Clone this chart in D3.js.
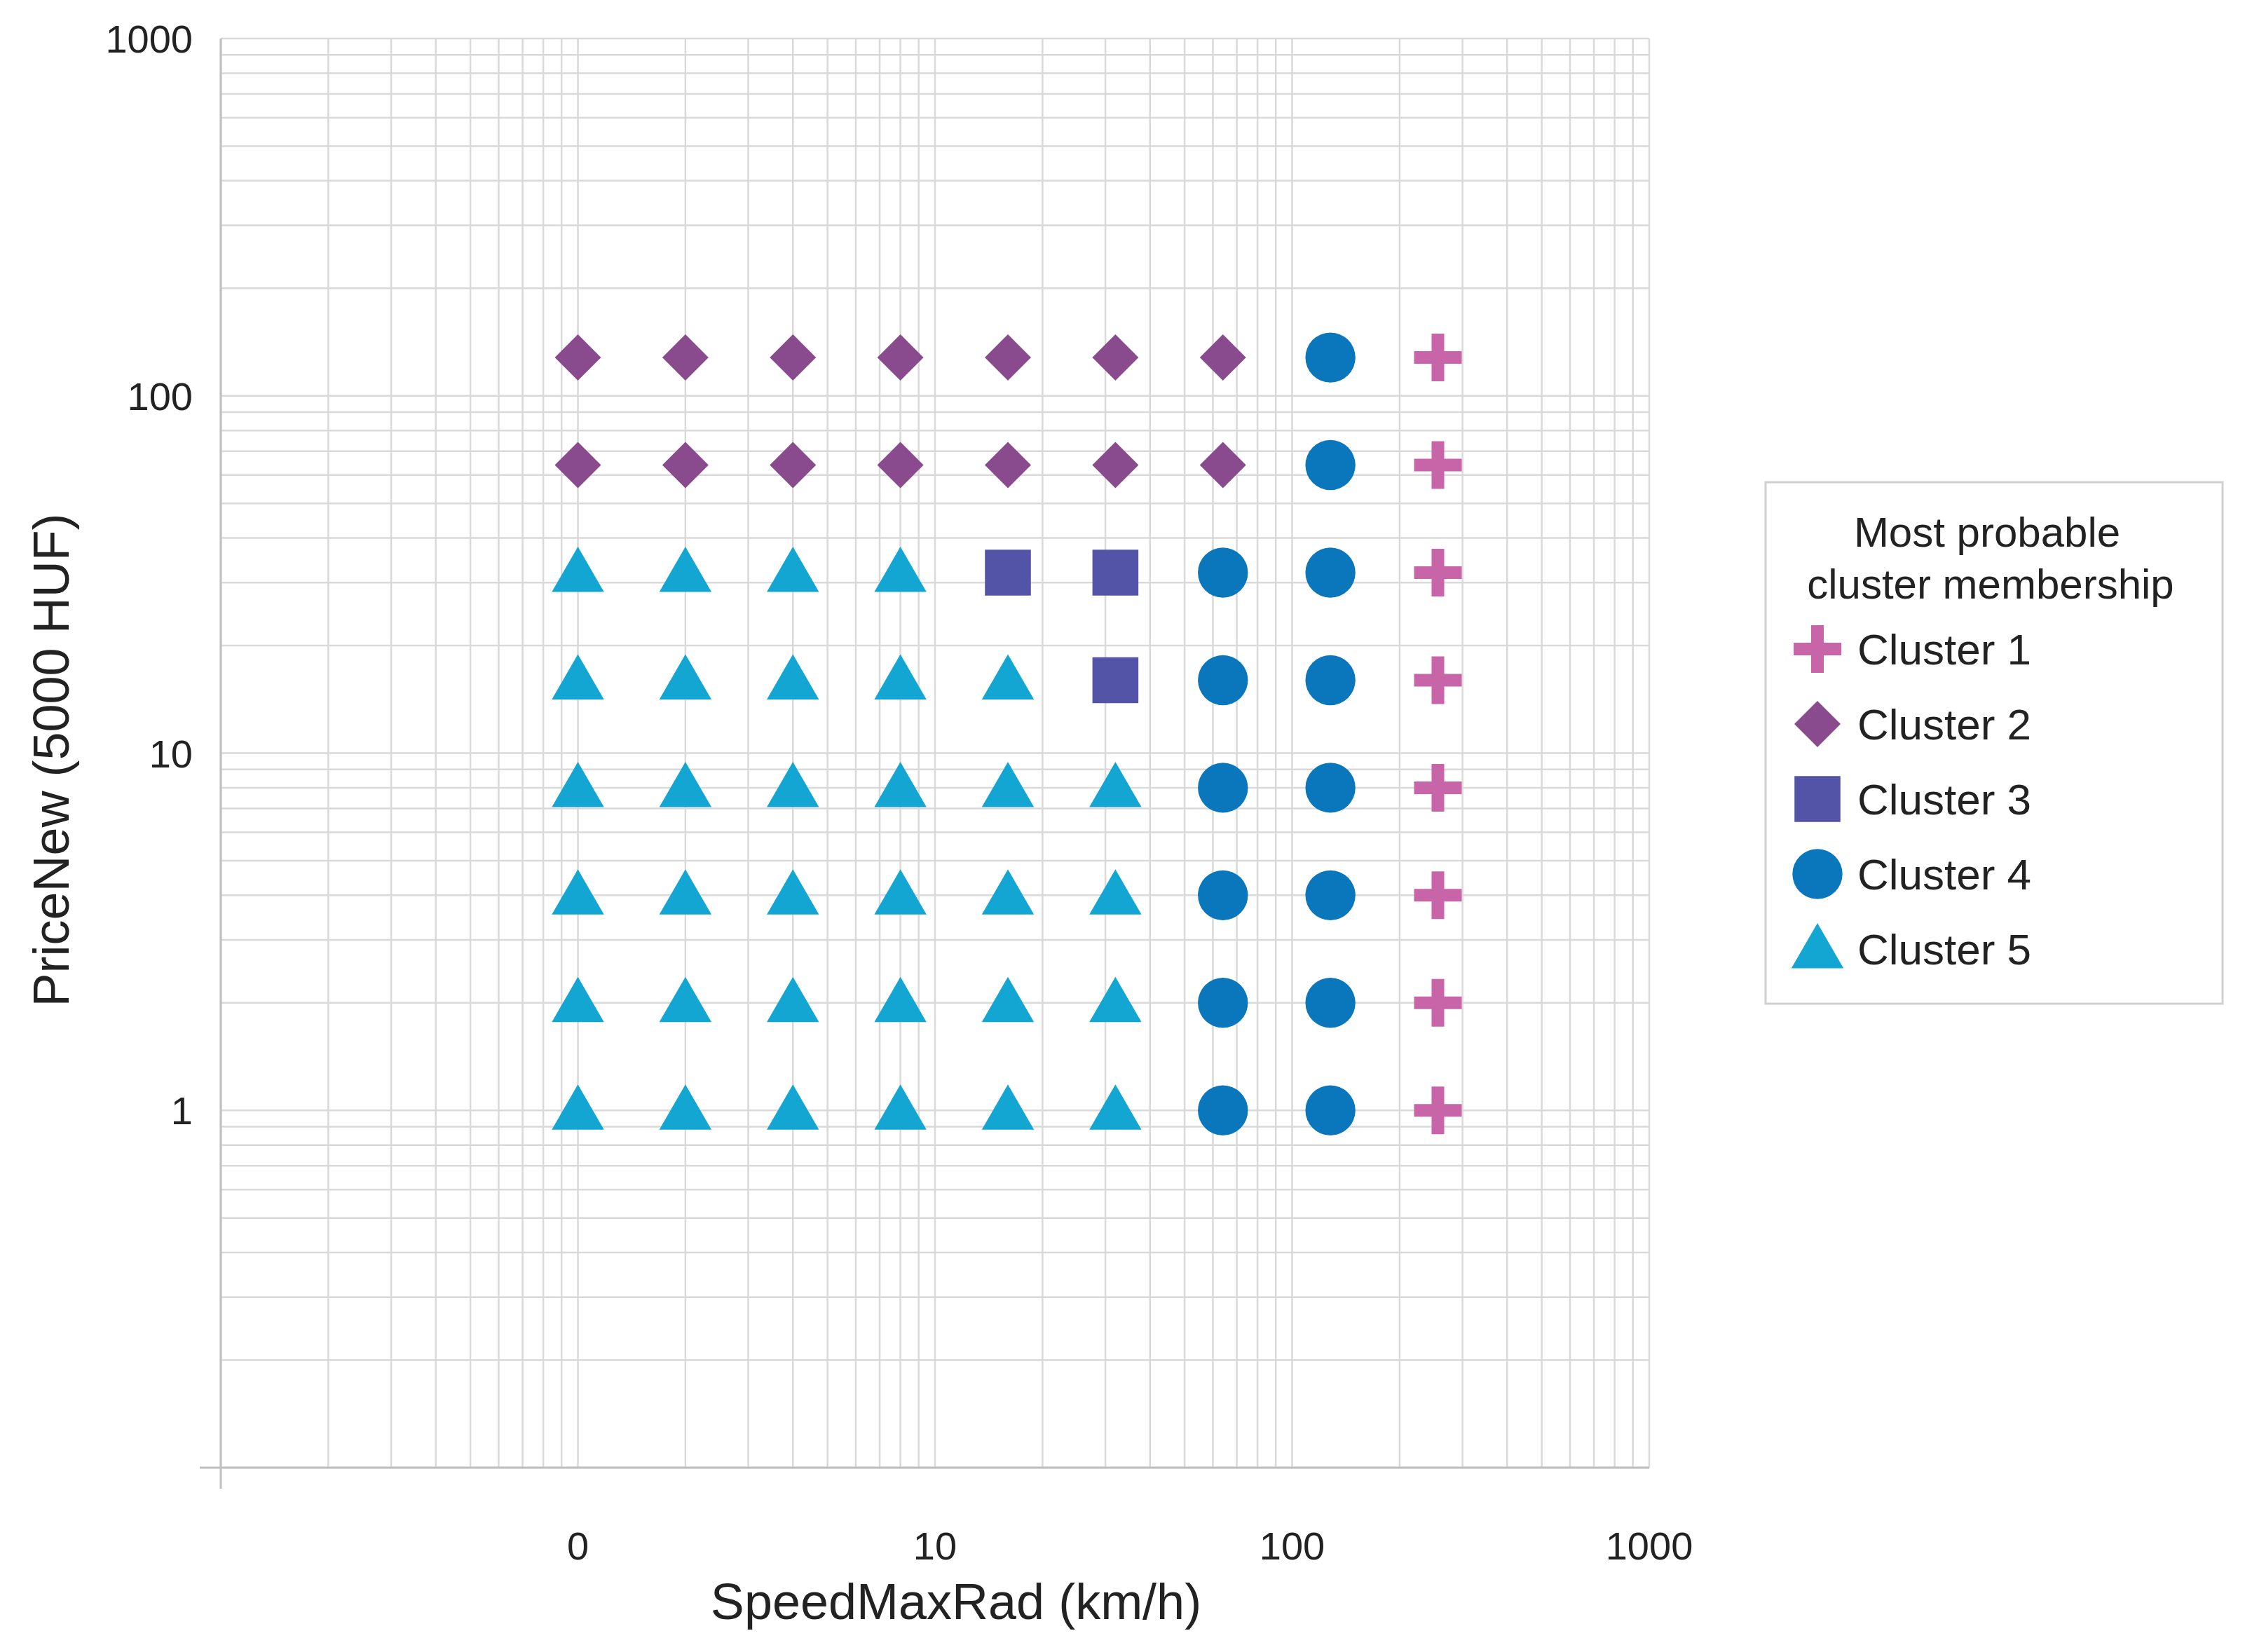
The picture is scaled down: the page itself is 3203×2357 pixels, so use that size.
<!DOCTYPE html>
<html><head><meta charset="utf-8">
<script src="https://cdn.jsdelivr.net/npm/d3@7"></script>
<style>body{margin:0;background:#fff}svg{font-family:"Liberation Sans",Arial,sans-serif}</style>
</head><body><svg id="c" width="3203" height="2357"></svg>
<script>
// data
var speeds = [1, 2, 4, 8, 16, 32, 64, 128, 256];
var prices = [128, 64, 32, 16, 8, 4, 2, 1];
// cluster per row (prices order), per column (speeds order)
var clusterRows = [
  [2,2,2,2,2,2,2,4,1],
  [2,2,2,2,2,2,2,4,1],
  [5,5,5,5,3,3,4,4,1],
  [5,5,5,5,5,3,4,4,1],
  [5,5,5,5,5,5,4,4,1],
  [5,5,5,5,5,5,4,4,1],
  [5,5,5,5,5,5,4,4,1],
  [5,5,5,5,5,5,4,4,1]
];
var clusterNames = ["Cluster 1","Cluster 2","Cluster 3","Cluster 4","Cluster 5"];
var clusterColors = ["#C865A8","#8A4A8E","#5354A8","#0A76BC","#14A6D2"];
var xTicks = [1, 10, 100, 1000], xTickLabels = ["0","10","100","1000"];
var yTicks = [1, 10, 100, 1000], yTickLabels = ["1","10","100","1000"];

var svg = d3.select("#c");
var L=315, R=2353, T=55, B=2094;
var x = d3.scaleLog().domain([0.1,1000]).range([L,R]);
var y = d3.scaleLog().domain([0.1,1000]).range([B,T]);

// grid
var minor = [];
[0.1,1,10,100].forEach(function(d){ for(var k=1;k<=10;k++) minor.push(d*k); });
minor = Array.from(new Set(minor.map(function(v){return +v.toPrecision(6);})));
var g = svg.append("g");
g.selectAll(".vx").data(minor).enter().append("line")
  .attr("x1",function(d){return x(d);}).attr("x2",function(d){return x(d);})
  .attr("y1",T).attr("y2",B).attr("stroke","#d9d9d9").attr("stroke-width",2.5);
g.selectAll(".hy").data(minor).enter().append("line")
  .attr("y1",function(d){return y(d);}).attr("y2",function(d){return y(d);})
  .attr("x1",L).attr("x2",R).attr("stroke","#d9d9d9").attr("stroke-width",2.5);
// axes
g.append("line").attr("x1",L).attr("x2",L).attr("y1",T).attr("y2",B+30).attr("stroke","#bfbfbf").attr("stroke-width",3);
g.append("line").attr("x1",L-30).attr("x2",R).attr("y1",B).attr("y2",B).attr("stroke","#bfbfbf").attr("stroke-width",3);
svg.selectAll(".xt").data(xTicks).enter().append("text")
  .attr("x",function(d){return x(d);}).attr("y",2225).attr("text-anchor","middle")
  .attr("font-size",56).attr("fill","#222").text(function(d,i){return xTickLabels[i];});
svg.selectAll(".yt").data(yTicks).enter().append("text")
  .attr("x",275).attr("y",function(d){return y(d)+20;}).attr("text-anchor","end")
  .attr("font-size",56).attr("fill","#222").text(function(d,i){return yTickLabels[i];});
svg.append("text").attr("x",(x(1)+x(100))/2+30).attr("y",2310).attr("text-anchor","middle")
  .attr("font-size",72).attr("fill","#222").text("SpeedMaxRad (km/h)");
svg.append("text").attr("transform","translate(98,"+((T+B)/2+10)+") rotate(-90)").attr("text-anchor","middle")
  .attr("font-size",72).attr("fill","#222").text("PriceNew (5000 HUF)");

// markers
function sym(c){
  return [d3.symbolCross,d3.symbolDiamond,d3.symbolSquare,d3.symbolCircle,d3.symbolTriangle][c-1];
}
function size(c){ return [1900,1700,4300,4000,2400][c-1]; }
function marker(sel,c){
  if(c===1){
    sel.append("path").attr("d","M-9,-34H9V-9H34V9H9V34H-9V9H-34V-9H-9Z").attr("fill",clusterColors[0]);
  } else if(c===2){
    sel.append("path").attr("d","M0,-33L33,0L0,33L-33,0Z").attr("fill",clusterColors[1]);
  } else {
    sel.append("path").attr("d",d3.symbol(sym(c),size(c))()).attr("fill",clusterColors[c-1])
      .attr("transform", c===5?"translate(0,6)":null);
  }
}
var pts=[];
prices.forEach(function(p,i){ speeds.forEach(function(s,j){ pts.push({s:s,p:p,c:clusterRows[i][j]}); }); });
svg.selectAll(".pt").data(pts).enter().append("g")
  .attr("transform",function(d){return "translate("+x(d.s)+","+y(d.p)+")";})
  .each(function(d){ marker(d3.select(this),d.c); });

// legend
var lg = svg.append("g");
lg.append("rect").attr("x",2519).attr("y",688).attr("width",652).attr("height",744)
  .attr("fill","#fff").attr("stroke","#d0d0d0").attr("stroke-width",3);
lg.append("text").attr("x",2835).attr("y",780).attr("text-anchor","middle").attr("font-size",60).attr("fill","#222").text("Most probable");
lg.append("text").attr("x",2840).attr("y",854).attr("text-anchor","middle").attr("font-size",60).attr("fill","#222").text("cluster membership");
clusterNames.forEach(function(n,i){
  var yy = 926 + i*107;
  var gi = lg.append("g").attr("transform","translate(2593,"+yy+")");
  marker(gi,i+1);
  lg.append("text").attr("x",2650).attr("y",yy+22).attr("font-size",62).attr("fill","#222").text(n);
});
</script></body></html>
